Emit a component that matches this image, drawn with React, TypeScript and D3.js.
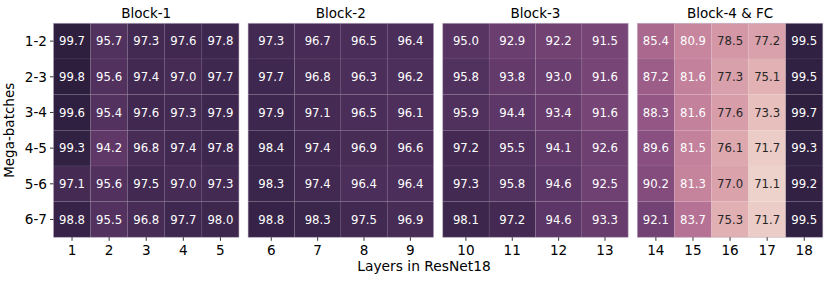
import * as d3 from "d3";

const megaBatches = ["1-2", "2-3", "3-4", "4-5", "5-6", "6-7"];

const blockNames = ["Block-1", "Block-2", "Block-3", "Block-4 & FC"];

const block1Layers = ["1", "2", "3", "4", "5"];
const block1Values = [
  [99.7, 95.7, 97.3, 97.6, 97.8],
  [99.8, 95.6, 97.4, 97.0, 97.7],
  [99.6, 95.4, 97.6, 97.3, 97.9],
  [99.3, 94.2, 96.8, 97.4, 97.8],
  [97.1, 95.6, 97.5, 97.0, 97.3],
  [98.8, 95.5, 96.8, 97.7, 98.0],
];

const block2Layers = ["6", "7", "8", "9"];
const block2Values = [
  [97.3, 96.7, 96.5, 96.4],
  [97.7, 96.8, 96.3, 96.2],
  [97.9, 97.1, 96.5, 96.1],
  [98.4, 97.4, 96.9, 96.6],
  [98.3, 97.4, 96.4, 96.4],
  [98.8, 98.3, 97.5, 96.9],
];

const block3Layers = ["10", "11", "12", "13"];
const block3Values = [
  [95.0, 92.9, 92.2, 91.5],
  [95.8, 93.8, 93.0, 91.6],
  [95.9, 94.4, 93.4, 91.6],
  [97.2, 95.5, 94.1, 92.6],
  [97.3, 95.8, 94.6, 92.5],
  [98.1, 97.2, 94.6, 93.3],
];

const block4Layers = ["14", "15", "16", "17", "18"];
const block4Values = [
  [85.4, 80.9, 78.5, 77.2, 99.5],
  [87.2, 81.6, 77.3, 75.1, 99.5],
  [88.3, 81.6, 77.6, 73.3, 99.7],
  [89.6, 81.5, 76.1, 71.7, 99.3],
  [90.2, 81.3, 77.0, 71.1, 99.2],
  [92.1, 83.7, 75.3, 71.7, 99.5],
];

const blocks = [
  { name: blockNames[0], layers: block1Layers, values: block1Values },
  { name: blockNames[1], layers: block2Layers, values: block2Values },
  { name: blockNames[2], layers: block3Layers, values: block3Values },
  { name: blockNames[3], layers: block4Layers, values: block4Values },
];

// seaborn cubehelix_palette(as_cmap=True) defaults
const cubehelix = (t: number) => {
  const tc = Math.max(0, Math.min(1, t));
  const x = 0.85 + (0.15 - 0.85) * tc;
  const a = (0.8 * x * (1 - x)) / 2;
  const phi = 2 * Math.PI * (0.4 * x);
  const c = Math.cos(phi);
  const s = Math.sin(phi);
  const r = x + a * (-0.14861 * c + 1.78277 * s);
  const g = x + a * (-0.29227 * c - 0.90649 * s);
  const b = x + a * (1.97294 * c);
  return [r, g, b].map((v) => Math.max(0, Math.min(1, v)));
};

// seaborn's relative_luminance (with its weight order)
const luminance = (rgb: number[]) => {
  const lin = rgb.map((v) => (v <= 0.03928 ? v / 12.92 : Math.pow((v + 0.055) / 1.055, 2.4)));
  return lin[0] * 0.2126 + lin[1] * 0.0722 + lin[2] * 0.7152;
};

const toCss = (rgb: number[]) =>
  d3.rgb(rgb[0] * 255, rgb[1] * 255, rgb[2] * 255).formatHex();

export default function App() {
  const width = 830;
  const height = 283;
  const top = 23.3;
  const bottom = 237.3;
  const font = "DejaVu Sans, sans-serif";

  const all = blocks.flatMap((b) => b.values.flat());
  const [vmin, vmax] = d3.extent(all) as [number, number];
  const norm = d3.scaleLinear().domain([vmin, vmax]).range([0, 1]);

  const panelX = d3
    .scaleBand<string>()
    .domain(blockNames)
    .range([53.5, 822.8])
    .paddingInner(0.047);

  const y = d3.scaleBand<string>().domain(megaBatches).range([top, bottom]);

  return (
    <svg
      width={width}
      height={height}
      style={{ position: "absolute", left: 0, top: 0, fontFamily: font }}
    >
      <rect width={width} height={height} fill="white" />
      {blocks.map((blk) => {
        const x0 = panelX(blk.name)!;
        const x = d3
          .scaleBand<string>()
          .domain(blk.layers)
          .range([x0, x0 + panelX.bandwidth()]);
        return (
          <g key={blk.name}>
            <text
              x={x0 + panelX.bandwidth() / 2}
              y={18}
              textAnchor="middle"
              fontSize={13.5}
              fill="#000"
            >
              {blk.name}
            </text>
            {blk.values.map((row, i) =>
              row.map((v, j) => {
                const rgb = cubehelix(norm(v));
                const txt = luminance(rgb) > 0.408 ? "#262626" : "#ffffff";
                const cx = x(blk.layers[j])!;
                const cy = y(megaBatches[i])!;
                return (
                  <g key={`${i}-${j}`}>
                    <rect
                      x={cx}
                      y={cy}
                      width={x.bandwidth()}
                      height={y.bandwidth()}
                      fill={toCss(rgb)}
                      stroke="rgba(255,255,255,0.06)"
                      strokeWidth={0.8}
                    />
                    <text
                      x={cx + x.bandwidth() / 2}
                      y={cy + y.bandwidth() / 2}
                      dy="0.36em"
                      textAnchor="middle"
                      fontSize={11.7}
                      fill={txt}
                    >
                      {v.toFixed(1)}
                    </text>
                  </g>
                );
              })
            )}
            <rect
              x={x0}
              y={top}
              width={panelX.bandwidth()}
              height={bottom - top}
              fill="none"
              stroke="rgba(180,165,190,0.6)"
              strokeWidth={0.8}
            />
            {blk.layers.map((l) => {
              const cx = x(l)! + x.bandwidth() / 2;
              return (
                <g key={l}>
                  <line x1={cx} x2={cx} y1={bottom} y2={bottom + 3.5} stroke="#000" strokeWidth={0.8} />
                  <text x={cx} y={255} textAnchor="middle" fontSize={13.6} fill="#000">
                    {l}
                  </text>
                </g>
              );
            })}
          </g>
        );
      })}
      {megaBatches.map((m) => {
        const cy = y(m)! + y.bandwidth() / 2;
        return (
          <g key={m}>
            <line x1={50} x2={53.5} y1={cy} y2={cy} stroke="#000" strokeWidth={0.8} />
            <text x={47} y={cy} dy="0.36em" textAnchor="end" fontSize={13.6} fill="#000">
              {m}
            </text>
          </g>
        );
      })}
      <text x={424} y={270.5} textAnchor="middle" fontSize={13.8} fill="#000">
        Layers in ResNet18
      </text>
      <text
        transform={`translate(14,${(top + bottom) / 2}) rotate(-90)`}
        textAnchor="middle"
        fontSize={13.5}
        fill="#000"
      >
        Mega-batches
      </text>
    </svg>
  );
}
